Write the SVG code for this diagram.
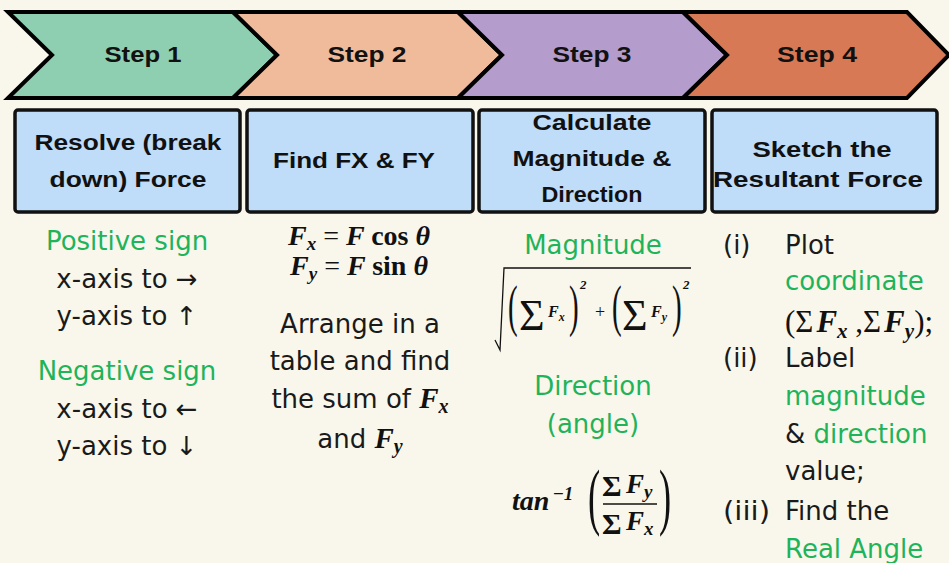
<svg xmlns="http://www.w3.org/2000/svg" width="949" height="563" viewBox="0 0 949 563">
<style>
.chev{stroke:#000;stroke-width:4;stroke-linejoin:miter}
.box{fill:#bfdcf9;stroke:#111;stroke-width:3.5}
.hd{font-family:"Liberation Sans",sans-serif;font-weight:bold;font-size:22px;fill:#111;text-anchor:middle}
.bd{font-family:"DejaVu Sans",sans-serif;font-size:26px;fill:#1a1a1a;text-anchor:middle}
.bl{font-family:"DejaVu Sans",sans-serif;font-size:26px;fill:#1a1a1a}
.g{fill:#1fb35a}
.m{font-family:"Liberation Serif",serif;font-weight:bold;font-style:italic;fill:#111}
.mu{font-family:"Liberation Serif",serif;fill:#111}
</style>
<rect width="949" height="563" fill="#f9f7ec"/>

<g id="step1"><path class="chev" fill="#8dcfb0" d="M8,12 L233,12 L277,55 L233,98 L8,98 L52,55 Z"/><text class="hd" x="143" y="62" textLength="77" lengthAdjust="spacingAndGlyphs">Step 1</text></g>
<g id="step2"><path class="chev" fill="#efbb9a" d="M233,12 L458,12 L502,55 L458,98 L233,98 L277,55 Z"/><text class="hd" x="367" y="62" textLength="79" lengthAdjust="spacingAndGlyphs">Step 2</text></g>
<g id="step3"><path class="chev" fill="#b49ccd" d="M458,12 L683,12 L727,55 L683,98 L458,98 L502,55 Z"/><text class="hd" x="592" y="62" textLength="79" lengthAdjust="spacingAndGlyphs">Step 3</text></g>
<g id="step4"><path class="chev" fill="#d77954" d="M683,12 L907,12 L949,55 L907,98 L683,98 L727,55 Z"/><text class="hd" x="817" y="62" textLength="80" lengthAdjust="spacingAndGlyphs">Step 4</text></g>

<g id="box1"><rect class="box" x="15" y="110" width="225" height="102" rx="3"/>
<text class="hd" x="128" y="150" textLength="187" lengthAdjust="spacingAndGlyphs">Resolve (break</text>
<text class="hd" x="128" y="187" textLength="157" lengthAdjust="spacingAndGlyphs">down) Force</text></g>
<g id="box2"><rect class="box" x="247" y="110" width="226" height="102" rx="3"/>
<text class="hd" x="354" y="168" textLength="162" lengthAdjust="spacingAndGlyphs">Find FX &amp; FY</text></g>
<g id="box3"><rect class="box" x="479" y="110" width="226" height="102" rx="3"/>
<text class="hd" x="592" y="130" textLength="119" lengthAdjust="spacingAndGlyphs">Calculate</text>
<text class="hd" x="592" y="166" textLength="159" lengthAdjust="spacingAndGlyphs">Magnitude &amp;</text>
<text class="hd" x="592" y="202" textLength="101" lengthAdjust="spacingAndGlyphs">Direction</text></g>
<g id="box4"><rect class="box" x="712" y="110" width="225" height="102" rx="3"/>
<text class="hd" x="822" y="157" textLength="139" lengthAdjust="spacingAndGlyphs">Sketch the</text>
<text class="hd" x="818" y="187" textLength="210" lengthAdjust="spacingAndGlyphs">Resultant Force</text></g>

<g id="col1">
<text class="bd g" x="127" y="250">Positive sign</text>
<text class="bd" x="127" y="288">x-axis to →</text>
<text class="bd" x="127" y="325">y-axis to ↑</text>
<text class="bd g" x="127" y="380">Negative sign</text>
<text class="bd" x="127" y="418">x-axis to ←</text>
<text class="bd" x="127" y="455">y-axis to ↓</text>
</g>

<g id="col2">
<text class="m" x="359" y="245" font-size="28" text-anchor="middle">F<tspan font-size="19" dy="5">x</tspan><tspan dy="-5" class="mu" font-style="normal" font-weight="normal"> = </tspan>F <tspan font-style="normal">cos</tspan> θ</text>
<text class="m" x="359" y="275" font-size="28" text-anchor="middle">F<tspan font-size="19" dy="5">y</tspan><tspan dy="-5" class="mu" font-style="normal" font-weight="normal"> = </tspan>F <tspan font-style="normal">sin</tspan> θ</text>
<text class="bd" x="360" y="333">Arrange in a</text>
<text class="bd" x="360" y="370">table and find</text>
<text class="bd" x="360" y="408">the sum of <tspan class="m" font-size="29">F</tspan><tspan class="m" font-size="20" dy="5">x</tspan></text>
<text class="bd" x="360" y="448">and <tspan class="m" font-size="29">F</tspan><tspan class="m" font-size="20" dy="5">y</tspan></text>
</g>

<g id="col3">
<text class="bd g" x="593" y="254">Magnitude</text>
<path d="M495,340 L500,350 L504,268 L691,268" fill="none" stroke="#111" stroke-width="1.3"/>
<text class="mu" transform="translate(508,325) scale(0.5,1)" font-size="58">(</text>
<text class="mu" x="519" y="330" font-size="44">Σ</text>
<text class="m" x="548" y="317" font-size="16">F<tspan font-size="12" dy="4">x</tspan></text>
<text class="mu" transform="translate(569,325) scale(0.5,1)" font-size="58">)</text>
<text class="m" x="580" y="289" font-size="13">2</text>
<text class="mu" x="595" y="318" font-size="18">+</text>
<text class="mu" transform="translate(612,325) scale(0.5,1)" font-size="58">(</text>
<text class="mu" x="622" y="330" font-size="44">Σ</text>
<text class="m" x="651" y="317" font-size="16">F<tspan font-size="12" dy="4">y</tspan></text>
<text class="mu" transform="translate(672,325) scale(0.5,1)" font-size="58">)</text>
<text class="m" x="683" y="289" font-size="13">2</text>
<text class="bd g" x="593" y="395">Direction</text>
<text class="bd g" x="593" y="433">(angle)</text>
<text class="m" x="512" y="510" font-size="28">tan</text>
<text class="m" x="553" y="500" font-size="19"><tspan font-style="normal">−</tspan>1</text>
<text class="mu" transform="translate(588,521) scale(0.5,1)" font-size="73">(</text>
<text class="mu" font-weight="bold" x="602" y="496" font-size="30">Σ</text>
<text class="m" x="626" y="493" font-size="27">F<tspan font-size="19" dy="5">y</tspan></text>
<line x1="603" y1="504" x2="657" y2="504" stroke="#111" stroke-width="1.5"/>
<text class="mu" font-weight="bold" x="602" y="534" font-size="30">Σ</text>
<text class="m" x="626" y="530" font-size="27">F<tspan font-size="19" dy="5">x</tspan></text>
<text class="mu" transform="translate(659,521) scale(0.5,1)" font-size="73">)</text>
</g>

<g id="col4">
<text class="bl" x="723" y="254">(i)</text>
<text class="bl" x="785" y="254">Plot</text>
<text class="bl g" x="785" y="290">coordinate</text>
<text class="mu" x="785" y="332" font-size="31">(Σ<tspan class="m" dx="3">F</tspan><tspan class="m" font-size="21" dy="6">x</tspan><tspan dy="-6"> ,</tspan>Σ<tspan class="m" dx="3">F</tspan><tspan class="m" font-size="21" dy="6">y</tspan><tspan dy="-6">);</tspan></text>
<text class="bl" x="723" y="367">(ii)</text>
<text class="bl" x="785" y="367">Label</text>
<text class="bl g" x="785" y="405">magnitude</text>
<text class="bl" x="785" y="443">&amp; <tspan class="g">direction</tspan></text>
<text class="bl" x="785" y="480">value;</text>
<text class="bl" x="723" y="520" textLength="47" lengthAdjust="spacingAndGlyphs">(iii)</text>
<text class="bl" x="785" y="520">Find the</text>
<text class="bl g" x="785" y="558">Real Angle</text>
</g>
</svg>
